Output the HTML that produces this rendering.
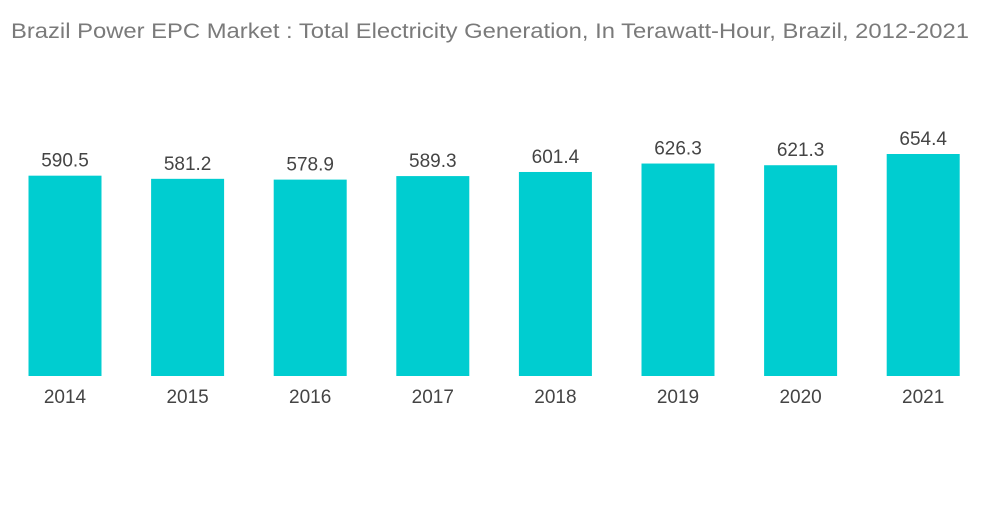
<!DOCTYPE html>
<html><head><meta charset="utf-8"><style>
body{margin:0;background:#fff;width:1000px;height:504px;overflow:hidden}
text{font-family:"Liberation Sans",sans-serif}
</style></head><body>
<svg width="1000" height="504">
<text x="11" y="38" font-size="21" fill="#7a7a7a" textLength="958" lengthAdjust="spacingAndGlyphs">Brazil Power EPC Market  : Total Electricity Generation, In Terawatt-Hour, Brazil, 2012-2021</text>
<g id="bars"></g>
</svg>
<script>
const categories=["2014","2015","2016","2017","2018","2019","2020","2021"];
const values=[590.5,581.2,578.9,589.3,601.4,626.3,621.3,654.4];
const labels=["590.5","581.2","578.9","589.3","601.4","626.3","621.3","654.4"];
const base=376, k=222/654.4, x0=65, step=122.6, bw=73;
const y=v=>base-v*k, x=i=>x0+i*step;
const g=document.getElementById('bars');
const ns="http://www.w3.org/2000/svg";
values.forEach((v,i)=>{
 const r=document.createElementNS(ns,'rect');
 r.setAttribute('x',x(i)-bw/2);r.setAttribute('y',y(v));r.setAttribute('width',bw);r.setAttribute('height',base-y(v));r.setAttribute('fill','#00cdd0');
 
 
 g.appendChild(r);
 const t=document.createElementNS(ns,'text');
 t.setAttribute('x',x(i));t.setAttribute('y',y(v)-9);t.setAttribute('text-anchor','middle');t.setAttribute('font-size','19');t.setAttribute('fill','#444');
 t.textContent=labels[i];
 
 
 g.appendChild(t);
 const c=document.createElementNS(ns,'text');
 c.setAttribute('x',x(i));c.setAttribute('y',403);c.setAttribute('text-anchor','middle');c.setAttribute('font-size','19');c.setAttribute('fill','#444');
 c.textContent=categories[i];
 
 
 g.appendChild(c);
});
</script>
</body></html>
